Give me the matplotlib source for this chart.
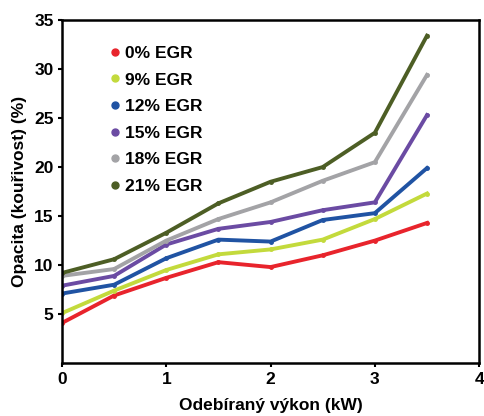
import matplotlib.pyplot as plt
from matplotlib.lines import Line2D

plt.rcParams['font.family'] = ['Liberation Sans', 'DejaVu Sans']
plt.rcParams['font.weight'] = 'bold'

# odebíraný výkon (kW)
vykon = [0, 0.5, 1, 1.5, 2, 2.5, 3, 3.5]

egr_labels = ['0% EGR', '9% EGR', '12% EGR', '15% EGR', '18% EGR', '21% EGR']
egr_0 = [4.1, 6.9, 8.7, 10.3, 9.8, 11.0, 12.5, 14.3]
egr_9 = [5.1, 7.4, 9.5, 11.1, 11.6, 12.6, 14.7, 17.3]
egr_12 = [7.1, 8.0, 10.7, 12.6, 12.4, 14.6, 15.3, 19.9]
egr_15 = [7.9, 8.9, 12.1, 13.7, 14.4, 15.6, 16.4, 25.3]
egr_18 = [8.9, 9.6, 12.5, 14.7, 16.4, 18.6, 20.5, 29.4]
egr_21 = [9.2, 10.6, 13.3, 16.3, 18.5, 20.0, 23.5, 33.4]

barvy = ['#e8242c', '#c3da3c', '#2053a3', '#6b4ba3', '#a3a3a6', '#4d5e25']

fig = plt.figure(figsize=(4.84, 4.16), dpi=100)
ax = fig.add_axes([0.128, 0.127, 0.862, 0.825])

serie = [egr_0, egr_9, egr_12, egr_15, egr_18, egr_21]
for hodnoty, barva in zip(serie, barvy):
    ax.plot(vykon, hodnoty, color=barva, lw=2.8, marker='o', ms=2.5,
            solid_joinstyle='round')

ax.set_xlim(0, 4)
ax.set_ylim(0, 35)
ax.set_xticks([0, 1, 2, 3, 4])
ax.set_yticks([5, 10, 15, 20, 25, 30, 35])
ax.tick_params(labelsize=12.5, width=1.5, length=3, pad=3)
for s in ax.spines.values():
    s.set_linewidth(1.8)

ax.set_xlabel('Odebíraný výkon (kW)', fontsize=12.5, fontweight='bold', labelpad=8)
ax.set_ylabel('Opacita (kouřivost) (%)', fontsize=12.5, fontweight='bold', labelpad=5)

# legenda jen s tečkami
handles = [Line2D([], [], ls='none', marker='o', ms=5, color=b) for b in barvy]
ax.legend(handles, egr_labels, loc='upper left', bbox_to_anchor=(0.09, 0.945),
          frameon=False, fontsize=12.5, handletextpad=0.05, handlelength=1.0,
          labelspacing=0.66, borderaxespad=0)

fig.savefig('out.png', dpi=100)
